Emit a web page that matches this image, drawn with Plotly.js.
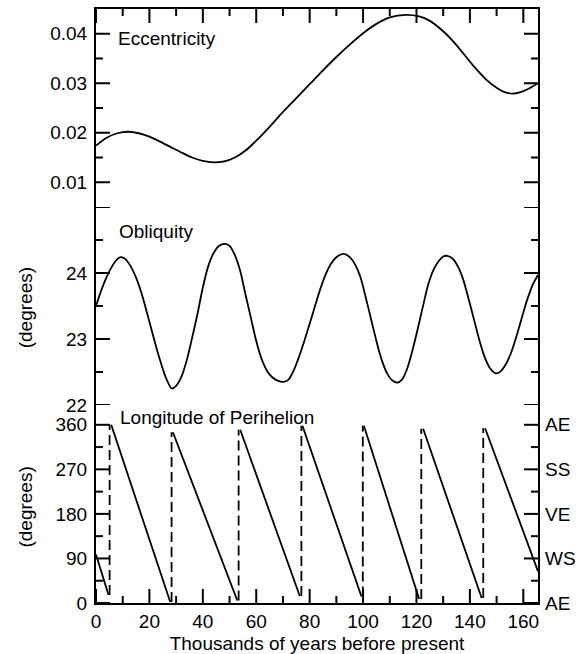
<!DOCTYPE html>
<html>
<head>
<meta charset="utf-8">
<script src="https://cdn.plot.ly/plotly-3.0.1.min.js"></script>
<style>html,body{margin:0;padding:0;background:#fff;}#chart{width:583px;height:654px;}</style>
</head>
<body>
<div id="chart"></div>
<script>
// Eccentricity vs thousands of years before present
var eccT = [0, 4, 8, 12, 16, 20, 24, 28, 32, 36, 40, 44, 48, 52, 56, 60, 65, 70, 75, 80, 85, 90, 95, 100, 105, 110, 116, 121, 125, 130, 134, 138, 142, 146, 150, 153, 156, 159, 162, 165.5];
var eccV = [0.0174, 0.0190, 0.0199, 0.0202, 0.0199, 0.0192, 0.0182, 0.0171, 0.0160, 0.0150, 0.0143, 0.0140, 0.0142, 0.0150, 0.0164, 0.0184, 0.0212, 0.0242, 0.0270, 0.0298, 0.0326, 0.0353, 0.0378, 0.0401, 0.0420, 0.0433, 0.0438, 0.0435, 0.0426, 0.0405, 0.0383, 0.0357, 0.0331, 0.0308, 0.0291, 0.0282, 0.0279, 0.0282, 0.0289, 0.0300];

// Obliquity (degrees)
var oblT = [0, 2, 4, 6, 8, 9.3, 11, 13, 15, 17, 19, 21, 23, 25, 26, 28.4, 30, 32, 34, 36, 38, 40, 42, 44, 46, 48.4, 50, 52, 54, 56, 58, 60, 62, 64, 66, 68, 70.1, 72, 74, 76, 78, 80, 82, 84, 86, 88, 90, 92.8, 95, 97, 99, 101, 103, 105, 107, 109, 111, 112.8, 114.5, 116.5, 118.5, 120.5, 122.5, 124.5, 126.5, 128.5, 130, 131.5, 133.5, 135.5, 137.5, 139.5, 141.5, 143.5, 145.5, 147.5, 149.6, 151.5, 153.5, 155.5, 157.5, 159.5, 161.5, 163.5, 165.5];
var oblV = [23.50, 23.74, 23.94, 24.10, 24.21, 24.24, 24.21, 24.10, 23.93, 23.70, 23.41, 23.11, 22.81, 22.55, 22.43, 22.25, 22.29, 22.43, 22.68, 23.02, 23.38, 23.78, 24.10, 24.30, 24.41, 24.44, 24.41, 24.27, 24.03, 23.67, 23.32, 22.97, 22.70, 22.52, 22.42, 22.37, 22.35, 22.38, 22.52, 22.73, 22.97, 23.23, 23.50, 23.76, 23.98, 24.14, 24.24, 24.29, 24.24, 24.13, 23.94, 23.63, 23.30, 22.97, 22.68, 22.48, 22.37, 22.34, 22.38, 22.55, 22.83, 23.16, 23.51, 23.84, 24.06, 24.19, 24.25, 24.26, 24.22, 24.10, 23.90, 23.61, 23.30, 22.99, 22.73, 22.56, 22.48, 22.51, 22.62, 22.80, 23.05, 23.33, 23.60, 23.82, 23.97];

// Longitude of perihelion: start/end of each falling segment (degrees)
var periStartT = [0, 5.7, 28.8, 54, 77.3, 100.3, 122.5, 145.7];
var periStartV = [98, 360, 345, 350, 358, 358, 352, 353];
var periEndT   = [4.7, 27.8, 52.9, 76.3, 99.4, 121, 144.4, 165.5];
var periEndV   = [16, 2, 5, 14, 13, 8, 10, 64];
// wrap-around (dashed) positions
var wrapT = [5.1, 28.3, 53.4, 76.9, 99.9, 121.8, 145.0];

// Tick labels
var xTicks = [0, 20, 40, 60, 80, 100, 120, 140, 160];
var eccTicks = [0.01, 0.02, 0.03, 0.04];
var eccTickText = ['0.01', '0.02', '0.03', '0.04'];
var oblTicks = [22, 23, 24, 25];
var oblTickText = ['22', '23', '24', ''];
var periTicks = [0, 90, 180, 270, 360];
var periTickText = ['0', '90', '180', '270', '360'];
var seasonText = ['AE', 'WS', 'VE', 'SS', 'AE'];

var xRange = [0, 165.5];
var eccRange = [0.005, 0.045];
var oblRange = [22, 25];
var periRange = [0, 400];

var W = 583, H = 654, M = {l: 96, r: 45, t: 9, b: 51};
var plotW = W - M.l - M.r, panelH = (H - M.t - M.b) / 3;
var MAJ = 14, MIN = 7;

var segX = [], segY = [];
for (var i = 0; i < periStartT.length; i++) {
  segX.push(periStartT[i], periEndT[i], null);
  segY.push(periStartV[i], periEndV[i], null);
}
var dashX = [], dashY = [];
for (var j = 0; j < wrapT.length; j++) {
  dashX.push(wrapT[j], wrapT[j], null);
  dashY.push(periEndV[j], periStartV[j + 1], null);
}

function mids(a) { var m = []; for (var k = 0; k + 1 < a.length; k++) m.push((a[k] + a[k + 1]) / 2); return m; }
function span(r) { return r[1] - r[0]; }

// Tick marks pointing into the frame, drawn on the axes' own scales
var xPerPx = span(xRange) / plotW;
function tickTrace(xa, ya) { return {x: [], y: [], xaxis: xa, yaxis: ya, mode: 'lines', line: {color: '#000', width: 2}, hoverinfo: 'skip', showlegend: false}; }
function addX(tr, vals, len, yEdge, dir, yRange) {
  var d = len * span(yRange) / panelH * dir;
  vals.forEach(function (v) { tr.x.push(v, v, null); tr.y.push(yEdge, yEdge + d, null); });
}
function addY(tr, vals, len) {
  var d = len * xPerPx;
  vals.forEach(function (v) {
    tr.x.push(xRange[0], xRange[0] + d, null); tr.y.push(v, v, null);
    tr.x.push(xRange[1], xRange[1] - d, null); tr.y.push(v, v, null);
  });
}
var tBottom = tickTrace('x', 'y3');
addX(tBottom, xTicks, MAJ, periRange[0], 1, periRange);
addX(tBottom, mids(xTicks), MIN, periRange[0], 1, periRange);
var tTop = tickTrace('x2', 'y');
addX(tTop, xTicks, MAJ, eccRange[1], -1, eccRange);
addX(tTop, mids(xTicks), MIN, eccRange[1], -1, eccRange);
var tEcc = tickTrace('x2', 'y');
addY(tEcc, eccTicks, MAJ); addY(tEcc, mids(eccTicks), MIN);
var tObl = tickTrace('x', 'y2');
addY(tObl, oblTicks, MAJ); addY(tObl, mids(oblTicks), MIN);
var tPeri = tickTrace('x', 'y3');
addY(tPeri, periTicks, MAJ); addY(tPeri, mids(periTicks), MIN);

var FONT = 'Liberation Sans, Arial, Helvetica, sans-serif';
var TF = {family: FONT, size: 19, color: '#000'};

var traces = [
  {x: eccT, y: eccV, xaxis: 'x2', yaxis: 'y', mode: 'lines', line: {color: '#000', width: 1.8, shape: 'spline', smoothing: 0.8}, hoverinfo: 'skip', showlegend: false},
  {x: oblT, y: oblV, xaxis: 'x', yaxis: 'y2', mode: 'lines', line: {color: '#000', width: 1.8, shape: 'spline', smoothing: 0.8}, hoverinfo: 'skip', showlegend: false},
  {x: segX, y: segY, xaxis: 'x', yaxis: 'y3', mode: 'lines', line: {color: '#000', width: 1.8}, connectgaps: false, hoverinfo: 'skip', showlegend: false},
  {x: dashX, y: dashY, xaxis: 'x', yaxis: 'y3', mode: 'lines', line: {color: '#000', width: 1.8, dash: '10px,5px'}, connectgaps: false, hoverinfo: 'skip', showlegend: false},
  tBottom, tTop, tEcc, tObl, tPeri,
  {x: [periStartT[0]], y: [periStartV[0]], xaxis: 'x', yaxis: 'y4', mode: 'markers', marker: {opacity: 0, size: 1}, hoverinfo: 'skip', showlegend: false}
];

function base(extra) {
  var a = {showline: true, linewidth: 2, linecolor: '#000', ticks: '', showgrid: false, zeroline: false, tickfont: TF};
  for (var k in extra) a[k] = extra[k];
  return a;
}

var layout = {
  width: W, height: H,
  margin: M,
  paper_bgcolor: '#fff', plot_bgcolor: 'rgba(0,0,0,0)',
  font: TF,
  showlegend: false,
  xaxis: base({domain: [0, 1], anchor: 'y3', range: xRange, tickmode: 'array', tickvals: xTicks, ticklabelstandoff: 0,
    title: {text: 'Thousands of years before present', font: TF, standoff: 10}}),
  xaxis2: base({domain: [0, 1], anchor: 'y', side: 'top', range: xRange, showticklabels: false}),
  yaxis: base({domain: [2 / 3, 1], anchor: 'x2', range: eccRange, mirror: true, tickmode: 'array', tickvals: eccTicks, ticktext: eccTickText, ticklabelstandoff: 3}),
  yaxis2: base({domain: [1 / 3, 2 / 3], anchor: 'x', range: oblRange, mirror: true, tickmode: 'array', tickvals: oblTicks, ticktext: oblTickText, ticklabelstandoff: 3}),
  yaxis3: base({domain: [0, 1 / 3], anchor: 'x', range: periRange, mirror: true, tickmode: 'array', tickvals: periTicks, ticktext: periTickText, ticklabelstandoff: 3}),
  yaxis4: {overlaying: 'y3', side: 'right', anchor: 'x', range: periRange, tickmode: 'array', tickvals: periTicks, ticktext: seasonText,
    ticks: '', showline: false, showgrid: false, zeroline: false, ticklabelstandoff: 6, tickfont: TF},
  annotations: [
    {text: 'Eccentricity', xref: 'paper', yref: 'paper', x: 0.046, y: 0.9507, xanchor: 'left', yanchor: 'middle', showarrow: false, font: TF},
    {text: 'Obliquity', xref: 'paper', yref: 'paper', x: 0.048, y: 0.6246, xanchor: 'left', yanchor: 'middle', showarrow: false, font: TF},
    {text: 'Longitude of Perihelion', xref: 'paper', yref: 'paper', x: 0.0505, y: 0.3123, xanchor: 'left', yanchor: 'middle', showarrow: false, font: TF},
    {text: '(degrees)', xref: 'paper', yref: 'paper', x: -0.1588, y: 0.4975, xanchor: 'center', yanchor: 'middle', textangle: -90, showarrow: false, font: TF},
    {text: '(degrees)', xref: 'paper', yref: 'paper', x: -0.1588, y: 0.162, xanchor: 'center', yanchor: 'middle', textangle: -90, showarrow: false, font: TF}
  ]
};

Plotly.newPlot('chart', traces, layout, {staticPlot: true, displayModeBar: false});
</script>
</body>
</html>
